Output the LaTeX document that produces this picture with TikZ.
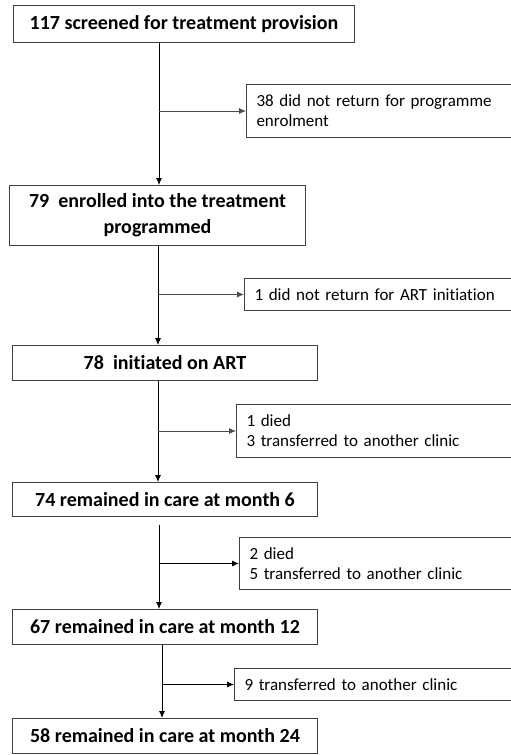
\documentclass[tikz,border=0pt]{standalone}
\usepackage{fontspec}
\setmainfont{Carlito}[Ligatures=NoCommon]
\usepackage{tikz}
\usetikzlibrary{arrows.meta}

\begin{document}
\begin{tikzpicture}[x=1pt, y=-1pt, ->, >={Latex[length=7pt,width=6pt]}, line width=0.8pt,
      every node/.append style={draw=black!75, line width=1pt, inner xsep=10pt, inner ysep=0pt}]
    \tikzstyle{stage} = [font=\fontsize{20}{26}\selectfont\bfseries, align=center, anchor=north west, minimum width=305pt, minimum height=35pt]
    \tikzstyle{loss} = [font=\fontsize{17}{20}\selectfont, align=left, anchor=north west]
    \useasboundingbox (0,0) rectangle (511,755);
    \node (screened) [stage, minimum width=341pt, minimum height=37pt] at (13,5) {117 screened for treatment provision};
    \node (enrolled) [stage, minimum width=296pt, minimum height=60pt] at (9,185) {79~~enrolled into the treatment\\programmed};
    \node (initiated) [stage] at (12,345) {78~~initiated on ART};
    \node (month6) [stage, minimum height=34pt] at (12,482) {74 remained in care at month 6};
    \node (month12) [stage] at (12,609) {67 remained in care at month 12};
    \node (month24) [stage] at (12,718) {58 remained in care at month 24};
    \node (noenrol) [loss, text width=246pt, minimum height=53pt] at (246,84) {38 did not return for programme\\enrolment};
    \node (noart) [loss, text width=248pt, minimum height=32pt] at (244,278) {1 did not return for ART initiation};
    \node (lost6) [loss, text width=256pt, minimum height=53pt] at (236,404) {1 died\\3 transferred to another clinic};
    \node (lost12) [loss, text width=253pt, minimum height=52pt] at (239,537) {2 died\\5 transferred to another clinic};
    \node (lost24) [loss, text width=258pt, minimum height=32pt] at (234,668) {9 transferred to another clinic};
    \coordinate (c1) at (159,0);
    \coordinate (c2) at (158,0);
    \coordinate (c3) at (158,0);
    \coordinate (c4) at (159,0);
    \coordinate (c5) at (162,0);
    \draw (screened.south -| c1) -- (enrolled.north -| c1);
    \draw (enrolled.south -| c2) -- (initiated.north -| c2);
    \draw (initiated.south -| c3) -- (month6.north -| c3);
    \draw (month6.south -| c4) ++(0,8) -- (month12.north -| c4);
    \draw (month12.south -| c5) -- (month24.north -| c5);
    \draw[black!70] (noenrol.west -| c1) -- (noenrol.west);
    \draw[black!70] (noart.west -| c2) -- (noart.west);
    \draw[black!70] (lost6.west -| c3) -- (lost6.west);
    \draw (lost12.west -| c4) -- (lost12.west);
    \draw (lost24.west -| c5) -- (lost24.west);
\end{tikzpicture}
\end{document}
